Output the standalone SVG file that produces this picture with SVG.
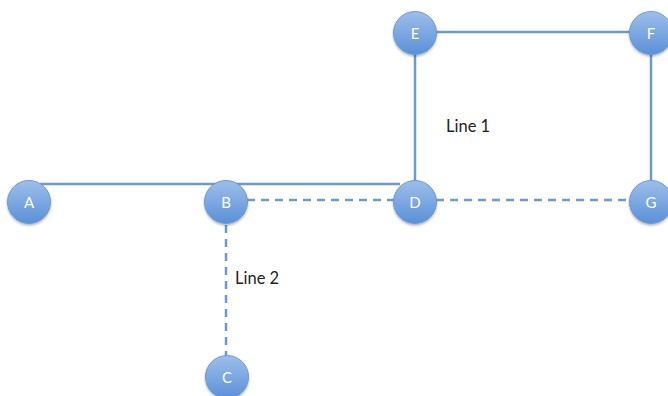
<svg xmlns="http://www.w3.org/2000/svg" width="668" height="396" viewBox="0 0 668 396">
<defs>
<linearGradient id="g" x1="0" y1="0" x2="0" y2="1">
<stop offset="0" stop-color="#9dbfea"/>
<stop offset="1" stop-color="#5b90d8"/>
</linearGradient>
<filter id="sh" x="-30%" y="-30%" width="160%" height="170%">
<feDropShadow dx="0" dy="1.5" stdDeviation="1.2" flood-color="#000" flood-opacity="0.3"/>
</filter>
</defs>
<style>
.n circle{fill:url(#g);stroke:#6f9ad0;stroke-width:1;filter:url(#sh)}
.n text{fill:#fff;font-family:Lato,"Open Sans",sans-serif;font-size:15px;text-anchor:middle}
.c line{stroke:#6b9bd1;stroke-width:2.5}
.d{stroke-dasharray:8 6}
.lbl{fill:#222;font-family:Lato,"Open Sans",sans-serif;font-size:16.5px}
</style>
<rect width="668" height="396" fill="#fff"/>
<g id="connectors" class="c">
<line x1="40" y1="184" x2="400" y2="184"/>
<line x1="415" y1="50" x2="415" y2="186"/>
<line x1="433" y1="32" x2="633" y2="32"/>
<line x1="651" y1="50" x2="651" y2="186"/>
<line class="d" x1="247" y1="200" x2="395" y2="200"/>
<line class="d" x1="436" y1="200" x2="630" y2="200"/>
<line class="d" x1="226" y1="225" x2="226" y2="356"/>
</g>
<g id="A" class="n"><circle cx="29" cy="202" r="21.5"/><text x="29" y="207.5">A</text></g>
<g id="B" class="n"><circle cx="226" cy="202" r="21.5"/><text x="226" y="207.5">B</text></g>
<g id="D" class="n"><circle cx="415" cy="202" r="21.5"/><text x="415" y="207.5">D</text></g>
<g id="G" class="n"><circle cx="651" cy="202" r="21.5"/><text x="651" y="207.5">G</text></g>
<g id="E" class="n"><circle cx="415" cy="33" r="21.5"/><text x="415" y="38.5">E</text></g>
<g id="F" class="n"><circle cx="651" cy="33" r="21.5"/><text x="651" y="38.5">F</text></g>
<g id="C" class="n"><circle cx="227" cy="377" r="21.5"/><text x="227" y="382.5">C</text></g>
<text class="lbl" x="446" y="132">Line 1</text>
<text class="lbl" x="235" y="284">Line 2</text>
</svg>
